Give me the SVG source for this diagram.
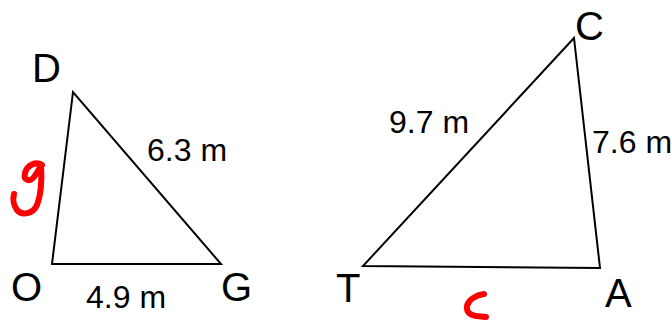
<svg xmlns="http://www.w3.org/2000/svg" width="671" height="320" viewBox="0 0 671 320">
<style>
.edge{fill:none;stroke:#000;stroke-width:2;stroke-linejoin:miter}
.v{font-family:"Liberation Sans",Arial,sans-serif;font-size:40px;fill:#000}
.m{font-family:"Liberation Sans",Arial,sans-serif;font-size:32px;fill:#000}
.ink{fill:none;stroke:#f00;stroke-width:6;stroke-linecap:round;stroke-linejoin:round}
</style>
<rect width="671" height="320" fill="#fff"/>
<g id="connectors">
<polygon class="edge" points="73,92 52,264 221,264"/>
<polygon class="edge" points="574,38 363,266 600,268"/>
</g>
<g id="node-D"><text class="v" x="32" y="82">D</text></g>
<g id="node-O"><text class="v" x="11" y="301">O</text></g>
<g id="node-G"><text class="v" x="221" y="301">G</text></g>
<g id="node-C"><text class="v" x="575" y="40">C</text></g>
<g id="node-T"><text class="v" x="336" y="302">T</text></g>
<g id="node-A"><text class="v" x="605" y="307">A</text></g>
<g id="labels">
<text class="m" x="147" y="161">6.3 m</text>
<text class="m" x="86" y="308">4.9 m</text>
<text class="m" x="389" y="133">9.7 m</text>
<text class="m" x="592" y="153">7.6 m</text>
</g>
<g id="handwriting">
<path class="ink" d="M 42 165 C 36 161, 27 165, 25 173 C 23 181, 30 182, 34 177 C 38 172, 40 167, 41 165 C 42 180, 41 195, 37 205 C 33 214, 22 216, 17 210 C 13 205, 13 198, 14 194"/>
<path class="ink" d="M 484 294 C 476 295, 468 300, 467 306 C 466 312, 470 315, 476 316 L 486 317"/>
</g>
</svg>
